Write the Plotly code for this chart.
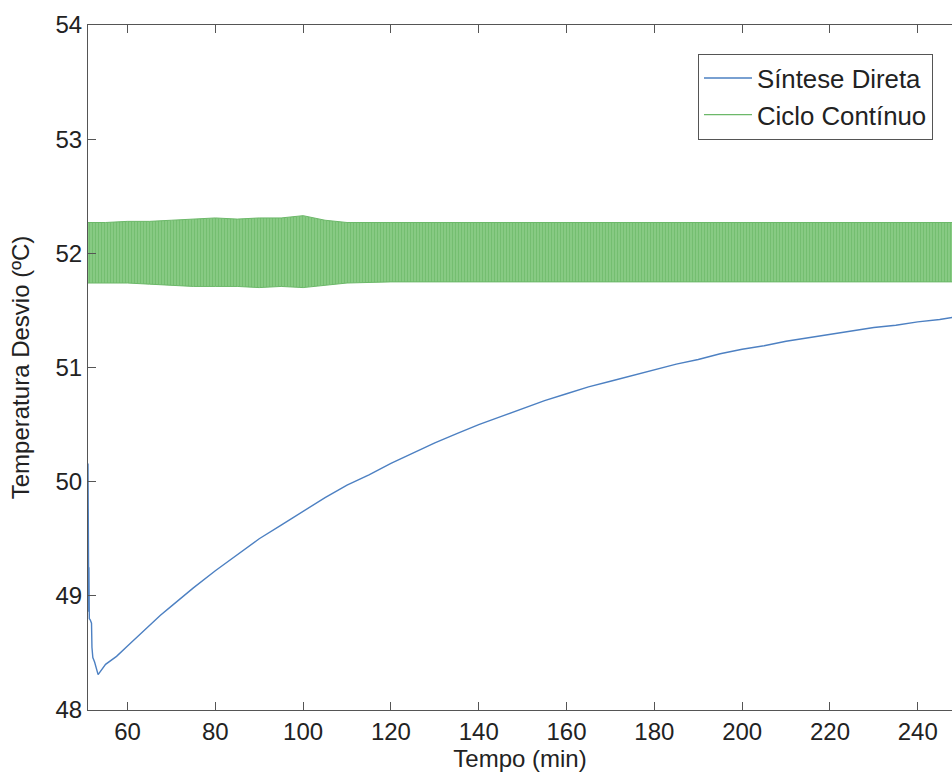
import plotly.graph_objects as go

# Síntese Direta: temperature response (min, ºC)
t_sintese = [51.0, 51.03, 51.06, 51.09, 51.12, 51.15, 51.18, 51.21, 51.24, 51.27,
             51.3, 51.5, 51.8, 51.9, 52.1, 52.5, 52.9, 53.3,
             55, 57.5, 60, 62.5, 65, 67.5, 70, 75, 80, 85, 90, 95, 100,
             105, 110, 115, 120, 125, 130, 135, 140, 145, 150, 155, 160,
             165, 170, 175, 180, 185, 190, 195, 200, 205, 210, 215, 220,
             225, 230, 235, 240, 245, 248]
y_sintese = [50.16, 49.33, 48.95, 49.30, 48.90, 49.28, 48.86, 49.25, 48.82, 49.10,
             48.80, 48.79, 48.76, 48.55, 48.46, 48.42, 48.36, 48.31,
             48.40, 48.47, 48.56, 48.65, 48.74, 48.83, 48.91, 49.07, 49.22, 49.36, 49.50, 49.62, 49.74,
             49.86, 49.97, 50.06, 50.16, 50.25, 50.34, 50.42, 50.50, 50.57, 50.64, 50.71, 50.77,
             50.83, 50.88, 50.93, 50.98, 51.03, 51.07, 51.12, 51.16, 51.19, 51.23, 51.26, 51.29,
             51.32, 51.35, 51.37, 51.40, 51.42, 51.44]

# Ciclo Contínuo: upper and lower envelope of the oscillation (min, ºC)
t_ciclo = [51, 55, 60, 65, 70, 75, 80, 85, 90, 95, 100, 105, 110, 120,
           140, 160, 180, 200, 220, 240, 248]
y_ciclo_max = [52.27, 52.27, 52.28, 52.28, 52.29, 52.30, 52.31, 52.30, 52.31, 52.31, 52.33,
               52.29, 52.27, 52.27, 52.27, 52.27, 52.27, 52.27, 52.27, 52.27, 52.27]
y_ciclo_min = [51.74, 51.74, 51.74, 51.73, 51.72, 51.71, 51.71, 51.71, 51.70, 51.71, 51.70,
               51.72, 51.74, 51.75, 51.75, 51.75, 51.75, 51.75, 51.75, 51.75, 51.75]

x_ticks = [60, 80, 100, 120, 140, 160, 180, 200, 220, 240]
y_ticks = [48, 49, 50, 51, 52, 53, 54]

BLUE = "#4d80c2"
GREEN = "#6cb869"
GREEN_LIGHT = "#93d28f"
GREEN_DARK = "#55aa52"
AXIS = "#555555"
FONT = "Liberation Sans, Arial, sans-serif"

fig = go.Figure()

fig.add_trace(go.Scatter(
    x=t_sintese, y=y_sintese, mode="lines", name="Síntese Direta",
    line=dict(color=BLUE, width=1.4),
))

# oscillation band, striped like the dense cycles
fig.add_trace(go.Scatter(
    x=t_ciclo, y=y_ciclo_max, mode="lines", line=dict(color=GREEN, width=1),
    showlegend=False, hoverinfo="skip",
))
fig.add_trace(go.Scatter(
    x=t_ciclo, y=y_ciclo_min, mode="lines", line=dict(color=GREEN, width=1),
    fill="tonexty", fillcolor=GREEN,
    fillpattern=dict(shape="|", bgcolor=GREEN_LIGHT, fgcolor=GREEN_DARK,
                     size=3, solidity=0.6),
    showlegend=False, hoverinfo="skip",
))
# legend entry for the band
fig.add_trace(go.Scatter(
    x=[None], y=[None], mode="lines", name="Ciclo Contínuo",
    line=dict(color=GREEN, width=1.4),
))

fig.update_layout(
    width=952, height=780,
    margin=dict(l=88, r=0, t=25, b=70),
    paper_bgcolor="white", plot_bgcolor="white",
    font=dict(family=FONT, size=24, color="#222222"),
    showlegend=True,
    legend=dict(
        x=0.706, xanchor="left", y=0.958, yanchor="top",
        bordercolor=AXIS, borderwidth=1, bgcolor="white",
        font=dict(size=25.8), itemwidth=48, tracegroupgap=0,
        traceorder="normal",
    ),
    xaxis=dict(
        range=[51.0, 247.8], tickvals=x_ticks, ticks="inside", ticklen=8,
        tickcolor=AXIS, showline=True, linecolor=AXIS, linewidth=1,
        mirror="ticks", showgrid=False, zeroline=False,
        title=dict(text="Tempo (min)", standoff=6, font=dict(size=24)),
    ),
    yaxis=dict(
        range=[48, 54], tickvals=y_ticks, ticks="inside", ticklen=8,
        tickcolor=AXIS, showline=True, linecolor=AXIS, linewidth=1,
        mirror=False, showgrid=False, zeroline=False,
        title=dict(text="Temperatura Desvio (ºC)", standoff=19, font=dict(size=24)),
    ),
)

fig.write_html("out.html")
